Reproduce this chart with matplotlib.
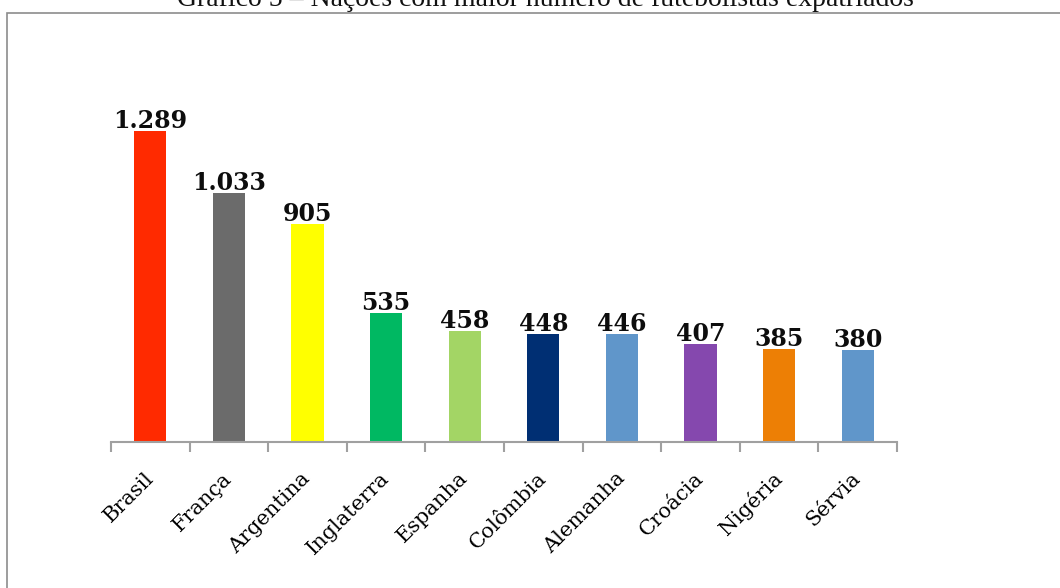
import matplotlib.pyplot as plt
from matplotlib.patches import Rectangle

# Data
countries = ["Brasil", "França", "Argentina", "Inglaterra", "Espanha",
             "Colômbia", "Alemanha", "Croácia", "Nigéria", "Sérvia"]
players = [1289, 1033, 905, 535, 458, 448, 446, 407, 385, 380]
bar_colors = ["#FF2A00", "#6B6B6B", "#FFFF00", "#00B862", "#A3D565",
              "#002F73", "#6096CA", "#8548AE", "#ED7F05", "#6096CA"]

TITLE = "Gráfico 5 – Nações com maior número de futebolistas expatriados"

fig = plt.figure(figsize=(10.6, 5.88), dpi=100)
ax = fig.add_axes([111 / 1060, 1 - 442 / 588, (897 - 111) / 1060, (442 - 104) / 588])

x = range(len(countries))
ax.bar(x, players, width=0.41, color=bar_colors)

# value labels on top of each bar, with "." as thousands separator
for xi, v in zip(x, players):
    ax.annotate(f"{v:,}".replace(",", "."), (xi, v), xytext=(0, 3),
                textcoords="offset pixels", ha="center", va="baseline",
                fontsize=17, fontweight="bold", family="DejaVu Serif",
                color="#0D0D0D")

ax.set_xlim(-0.5, len(countries) - 0.5)
ax.set_ylim(0, 1400)

# category names, tick marks only on category boundaries
ax.set_xticks(list(x))
ax.set_xticklabels(countries, rotation=45, ha="right", va="center",
                   rotation_mode="anchor", family="DejaVu Serif", fontsize=15)
ax.tick_params(axis="x", which="major", length=0, pad=24)
ax.set_xticks([i - 0.5 for i in range(len(countries) + 1)], minor=True)
ax.tick_params(axis="x", which="minor", length=7, width=1.5,
               color="#A0A0A0", direction="out")
ax.set_yticks([])

for side in ["left", "right", "top"]:
    ax.spines[side].set_visible(False)
ax.spines["bottom"].set_color("#A0A0A0")
ax.spines["bottom"].set_linewidth(1.5)

# chart frame (runs off the right and bottom edges in the original)
fig.patches.append(Rectangle((7 / 1060, -0.1), 1.2, 1.1 - 13 / 588,
                             transform=fig.transFigure, fill=False,
                             edgecolor="#8C8C8C", linewidth=1.2))

# title, partly cut off at the top as in the original
fig.text(545 / 1060, 1 - 6 / 588, TITLE, ha="center", va="baseline",
         fontsize=20, family="Liberation Serif", color="#111111")

fig.savefig("out.png", dpi=100)
